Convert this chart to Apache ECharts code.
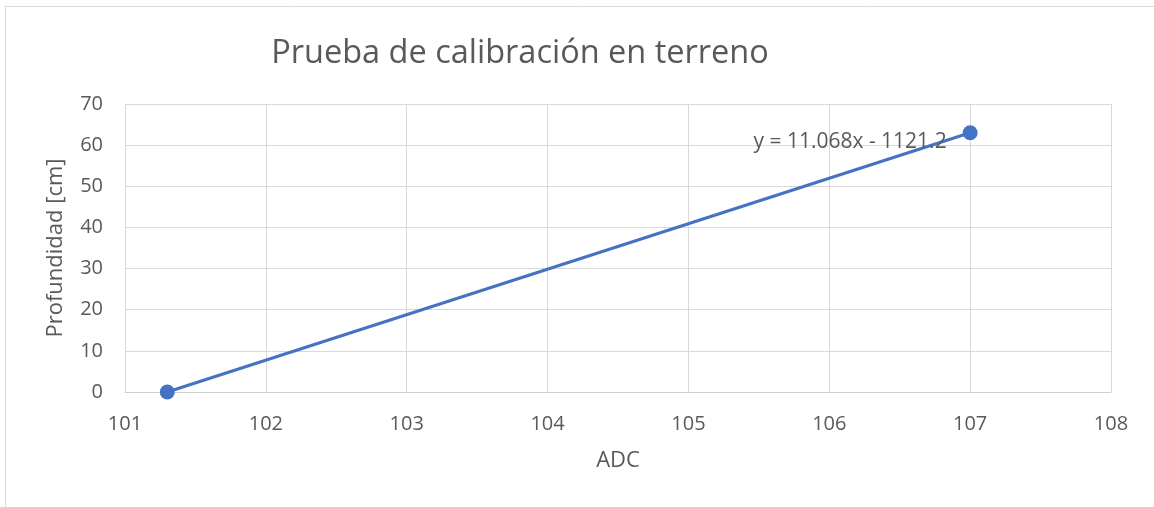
<!DOCTYPE html>
<html>
<head>
<meta charset="utf-8">
<script src="https://cdn.jsdelivr.net/npm/echarts@6/dist/echarts.min.js"></script>
<style>html,body{margin:0;padding:0;background:#fff}#c{width:1154px;height:507px}</style>
</head>
<body>
<div id="c"></div>
<script>
const titleText = 'Prueba de calibración en terreno';
const xName = 'ADC';
const yName = 'Profundidad [cm]';
const adc = [101.3, 107];
const depth = [0, 63];
const equation = 'y = 11.068x - 1121.2';
const xMin = 101, xMax = 108, xStep = 1;
const yMin = 0, yMax = 70, yStep = 10;

const FONT = '"Open Sans", sans-serif';
const GREY = '#595959';
const chart = echarts.init(document.getElementById('c'), null, {renderer: 'canvas'});
const pts = adc.map((x, i) => [x, depth[i]]);
chart.setOption({
  animation: false,
  backgroundColor: '#fff',
  textStyle: {fontFamily: FONT},
  title: {
    text: titleText, left: 515, top: 32, textAlign: 'center',
    textStyle: {fontFamily: FONT, fontSize: 32.5, fontWeight: 'normal', color: GREY}
  },
  graphic: [{
    type: 'rect', shape: {x: 5.5, y: 6.5, width: 1160, height: 520},
    style: {fill: 'none', stroke: '#d9d9d9', lineWidth: 1}, silent: true
  }],
  grid: {left: 125, top: 104, right: 43, bottom: 115, containLabel: false},
  xAxis: {
    type: 'value', min: xMin, max: xMax, interval: xStep,
    name: xName, nameLocation: 'middle', nameGap: 58,
    nameTextStyle: {fontFamily: FONT, fontSize: 22, color: GREY},
    axisLine: {show: true, lineStyle: {color: '#d0d0d0', width: 1}},
    axisTick: {show: false},
    axisLabel: {fontFamily: FONT, fontSize: 20, color: GREY, margin: 22},
    splitLine: {show: true, lineStyle: {color: '#d9d9d9', width: 1}}
  },
  yAxis: {
    type: 'value', min: yMin, max: yMax, interval: yStep,
    name: yName, nameLocation: 'middle', nameGap: 58, nameRotate: 90,
    nameTextStyle: {fontFamily: FONT, fontSize: 22, color: GREY},
    axisLine: {show: true, lineStyle: {color: '#d9d9d9', width: 1}},
    axisTick: {show: false},
    axisLabel: {fontFamily: FONT, fontSize: 20, color: GREY, margin: 22},
    splitLine: {show: true, lineStyle: {color: '#d9d9d9', width: 1}}
  },
  series: [{
    type: 'line', data: pts,
    symbol: 'circle', symbolSize: 15,
    itemStyle: {color: '#4472C4'},
    lineStyle: {color: '#4472C4', width: 3},
    label: {
      show: true, position: 'left', distance: 16, offset: [0, 9],
      fontFamily: FONT, fontSize: 21, color: GREY,
      formatter: p => p.dataIndex === adc.length - 1 ? equation : ''
    }
  }]
});
</script>
</body>
</html>
